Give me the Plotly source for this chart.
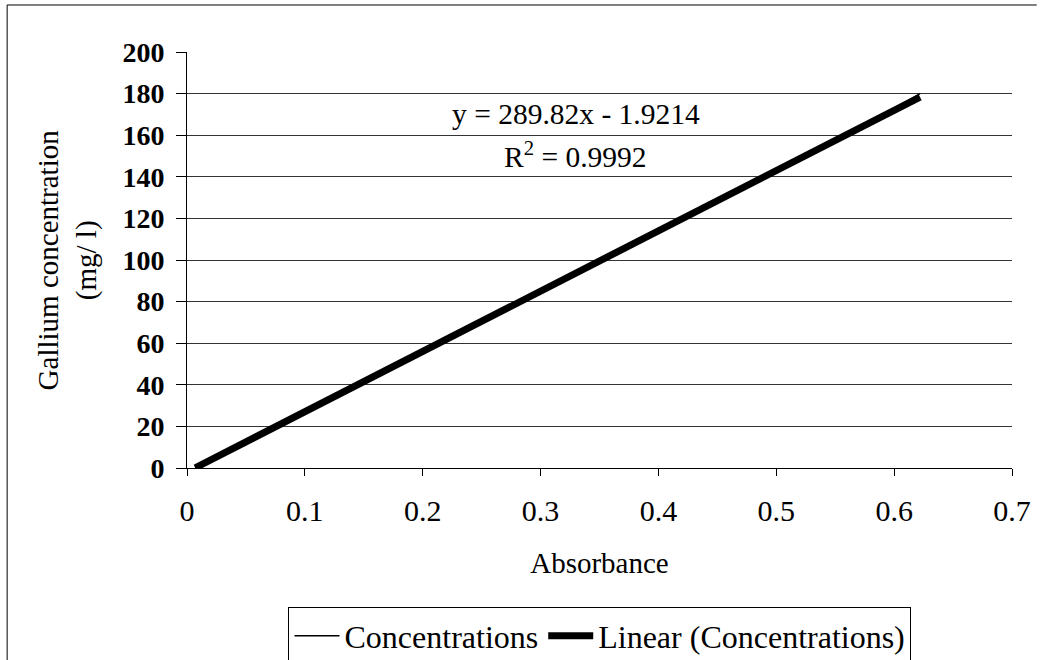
import plotly.graph_objects as go
import numpy as np

# Data
absorbance = [0.007, 0.075, 0.143, 0.212, 0.285, 0.352, 0.420, 0.491, 0.560, 0.622]
concentration = [0, 20, 40, 60, 80, 100, 120, 140, 160, 180]
slope = 289.82
intercept = -1.9214
r_squared = 0.9992

x_ticks = [0, 0.1, 0.2, 0.3, 0.4, 0.5, 0.6, 0.7]
x_tick_labels = ["0", "0.1", "0.2", "0.3", "0.4", "0.5", "0.6", "0.7"]
y_ticks = list(range(0, 201, 20))

FONT = "Liberation Serif, Times New Roman, serif"

trend_x = np.array([min(absorbance), max(absorbance)])
trend_y = slope * trend_x + intercept

fig = go.Figure()
fig.add_trace(go.Scatter(x=absorbance, y=concentration, mode="lines",
                         name="Concentrations",
                         line=dict(color="black", width=1.5)))
fig.add_trace(go.Scatter(x=trend_x, y=trend_y, mode="lines",
                         name="Linear (Concentrations)",
                         line=dict(color="black", width=7)))

fig.update_layout(
    width=1045, height=660,
    margin=dict(l=187, r=33, t=52, b=192, autoexpand=False),
    paper_bgcolor="white", plot_bgcolor="white",
    font=dict(family=FONT, size=29, color="black"),
    showlegend=True,
    legend=dict(orientation="h", x=0.5006, xanchor="center", y=-0.335, yanchor="top",
                bordercolor="black", borderwidth=1, font=dict(size=32, family=FONT),
                bgcolor="white", itemwidth=45, tracegroupgap=0),
    xaxis=dict(range=[0, 0.7], tickvals=x_ticks, ticktext=x_tick_labels, automargin=False,
               showgrid=False, zeroline=False, showline=True, linecolor="black", linewidth=1,
               ticks="outside", ticklen=7, tickcolor="black",
               tickfont=dict(size=30, family=FONT), ticklabelstandoff=9,
               title=dict(text="Absorbance", font=dict(size=29, family=FONT), standoff=26)),
    yaxis=dict(range=[0, 200], tickvals=y_ticks, automargin=False,
               showgrid=True, gridcolor="#333", gridwidth=1,
               zeroline=False, showline=True, linecolor="black", linewidth=1,
               ticks="outside", ticklen=10, tickcolor="black",
               tickfont=dict(size=28, family=FONT, weight="bold"), ticklabelstandoff=6),
)

fig.add_annotation(text="Gallium concentration<br>(mg/ l)", textangle=-90,
                   xref="paper", yref="paper", x=-0.145, y=0.5,
                   xanchor="center", yanchor="middle", showarrow=False,
                   font=dict(size=29, family=FONT))
fig.add_annotation(text=f"y = {slope}x - {abs(intercept)}",
                   xref="paper", yref="paper", x=0.4715, y=0.851,
                   xanchor="center", yanchor="middle", showarrow=False,
                   font=dict(size=29.5, family=FONT))
fig.add_annotation(text=f"R<sup>2</sup> = {r_squared}",
                   xref="paper", yref="paper", x=0.4715, y=0.752,
                   xanchor="center", yanchor="middle", showarrow=False,
                   font=dict(size=29.5, family=FONT))

# outer chart frame (top and left edges visible in the reference)
fig.add_shape(type="line", xref="paper", yref="paper", x0=-0.218, x1=1.03, y0=1.113, y1=1.113,
              line=dict(color="black", width=1))
fig.add_shape(type="line", xref="paper", yref="paper", x0=-0.218, x1=-0.218, y0=1.113, y1=-0.47,
              line=dict(color="black", width=1))

fig.write_html("out.html")
